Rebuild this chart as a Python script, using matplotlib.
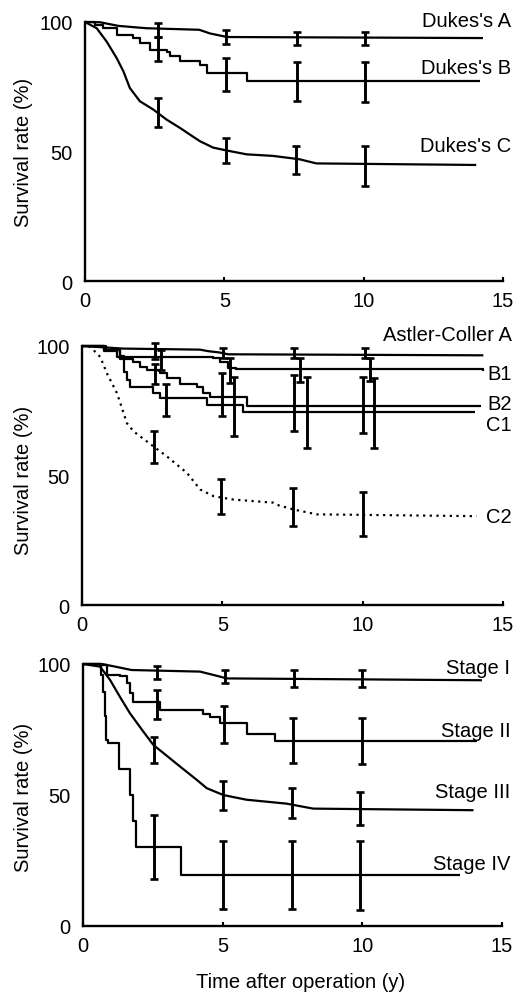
import numpy as np
import matplotlib
matplotlib.use('Agg')
import matplotlib.pyplot as plt

plt.rcParams['font.family'] = ['Liberation Sans', 'DejaVu Sans']

# ---------------- Panel 1 : Dukes stage ----------------
dukesA_t = [0, 0.54, 1.2, 2.2, 4.1, 4.48, 5.1, 14.28]
dukesA_s = [100, 99.9, 98.5, 97.6, 97.0, 95.6, 94.2, 93.8]
dukesB_t = [0, 0.36, 0.66, 1.14, 1.73, 1.97, 2.33, 2.93, 3.05, 3.41, 4.13, 4.37, 5.8, 14.16]
dukesB_s = [100, 98.9, 97.6, 95.0, 93.7, 91.8, 89.2, 88.6, 86.7, 84.8, 83.5, 80.3, 77.2, 77.2]
dukesC_t = [0, 0.42, 0.78, 1.14, 1.38, 1.61, 1.97, 2.45, 2.93, 3.41, 3.77, 4.12, 4.6, 5.08,
            5.8, 6.75, 7.7, 8.3, 14.04]
dukesC_s = [100, 97.6, 92.4, 86.0, 80.9, 74.5, 69.4, 66.2, 62.3, 59.1, 56.5, 54.0, 51.5, 50.4,
            48.9, 48.3, 47.0, 45.4, 44.8]

dukesA_err_t = [2.62, 5.05, 7.59, 10.06]
dukesA_lo = [94.2, 91.5, 91.0, 91.0]
dukesA_hi = [99.8, 96.9, 96.0, 96.0]
dukesB_err_t = [2.62, 5.05, 7.59, 10.06]
dukesB_lo = [84.8, 73.3, 69.5, 69.2]
dukesB_hi = [94.3, 86.0, 84.6, 84.5]
dukesC_err_t = [2.62, 5.05, 7.57, 10.04]
dukesC_lo = [59.4, 45.4, 41.2, 36.7]
dukesC_hi = [70.7, 55.3, 52.0, 52.0]

# ---------------- Panel 2 : Astler-Coller ----------------
acA_t = [0, 1.47, 4.2, 4.5, 4.9, 5.2, 14.3]
acA_s = [100, 99.0, 98.6, 98.0, 97.5, 96.8, 96.4]
acB1_t = [0, 0.8, 1.25, 4.67, 4.9, 5.2, 5.5, 14.3]
acB1_s = [100, 98.0, 95.8, 95.4, 94.0, 91.5, 91.0, 90.3]
acB2_t = [0, 0.85, 1.35, 1.83, 2.07, 2.3, 2.78, 3.02, 3.49, 4.08, 4.32, 4.56, 5.87, 14.2]
acB2_s = [100, 98.5, 95.1, 93.9, 92.0, 90.7, 89.4, 87.5, 85.5, 84.3, 81.7, 80.4, 77.0, 77.0]
acC1_t = [0, 0.8, 1.35, 1.5, 1.6, 1.71, 2.54, 2.78, 4.44, 5.75, 14.0]
acC1_s = [100, 98.5, 96.0, 90.0, 86.8, 84.3, 81.7, 79.8, 77.2, 74.4, 74.4]
acC2_t = [0, 0.3, 0.65, 0.89, 1.25, 1.6, 1.84, 2.55, 3.02, 3.74, 4.21, 4.69, 5.4, 6.82,
          7.0, 7.53, 8.36, 14.06]
acC2_s = [100, 99.6, 95.8, 89.4, 81.7, 70.2, 67.0, 61.2, 57.4, 51.0, 44.6, 42.0, 40.7, 39.5,
          38.5, 36.9, 35.0, 34.3]

acA_err_t = [2.6, 5.03, 7.55, 10.08]
acA_lo = [95.0, 95.2, 95.2, 95.2]
acA_hi = [101.3, 99.4, 99.4, 99.4]
acB1_err_t = [2.8, 5.27, 7.77, 10.26]
acB1_lo = [90.7, 85.8, 86.2, 86.5]
acB1_hi = [98.3, 95.5, 95.4, 95.4]
acB2_err_t = [2.6, 5.0, 7.55, 10.0]
acB2_lo = [85.2, 72.8, 67.3, 66.3]
acB2_hi = [93.2, 89.4, 88.7, 88.1]
acC1_err_t = [3.0, 5.4, 8.0, 10.4]
acC1_lo = [72.8, 65.4, 60.8, 60.6]
acC1_hi = [85.5, 88.1, 87.9, 87.5]
acC2_err_t = [2.55, 4.95, 7.5, 10.0]
acC2_lo = [54.8, 35.0, 30.5, 26.6]
acC2_hi = [67.0, 48.8, 45.0, 43.7]

# ---------------- Panel 3 : TNM stage ----------------
stI_t = [0, 0.68, 1.15, 1.74, 4.19, 4.9, 5.14, 14.28]
stI_s = [100, 100, 99.0, 97.7, 97.1, 95.2, 94.5, 93.8]
stII_t = [0, 0.61, 0.85, 1.32, 1.56, 1.68, 1.8, 2.76, 4.3, 4.55, 4.9, 5.86, 6.87, 14.1]
stII_s = [100, 99.6, 95.8, 95.4, 92.6, 88.8, 85.6, 82.5, 81.0, 79.9, 77.4, 73.3, 70.8, 70.8]
stIII_t = [0, 0.61, 0.97, 1.32, 1.68, 2.16, 2.52, 2.88, 3.47, 4.07, 4.43, 5.02, 5.85,
           7.29, 8.24, 13.98]
stIII_s = [100, 99.0, 93.9, 87.5, 81.2, 74.2, 69.1, 66.0, 60.9, 55.8, 52.6, 50.0, 48.2,
           46.7, 44.8, 44.2]
stIV_t = [0, 0.65, 0.72, 0.78, 0.84, 0.9, 1.3, 1.67, 1.8, 1.9, 3.5, 13.5]
stIV_s = [100, 95.8, 89.5, 80.0, 71.0, 70.0, 60.0, 50.0, 40.0, 30.0, 19.5, 19.5]

stI_err_t = [2.65, 5.1, 7.55, 10.0]
stI_lo = [94.3, 92.6, 91.1, 91.1]
stI_hi = [99.4, 97.7, 97.7, 97.7]
stII_err_t = [2.65, 5.05, 7.5, 9.98]
stII_lo = [79.1, 69.8, 62.2, 61.9]
stII_hi = [90.1, 83.8, 79.3, 79.3]
stIII_err_t = [2.55, 5.0, 7.47, 9.9]
stIII_lo = [62.4, 44.2, 41.2, 38.7]
stIII_hi = [72.0, 55.2, 52.7, 51.0]
stIV_err_t = [2.55, 5.0, 7.47, 9.9]
stIV_lo = [18.0, 6.6, 6.6, 6.1]
stIV_hi = [42.3, 32.4, 32.4, 32.4]

W, H = 517, 995
FS = 14.5


def drawCurve(ax, t, s, lo, hi, err_t, step=False, dotted=False):
	'''
	Draws one survival curve with its error bars.
	'''
	ls = (0, (1, 2.0)) if dotted else '-'
	ds = 'steps-post' if step else 'default'
	ax.plot(t, s, color='black', lw=1.6, ls=ls, drawstyle=ds, clip_on=False,
	        solid_capstyle='butt')
	lo = np.array(lo)
	hi = np.array(hi)
	mid = (lo + hi) / 2
	ax.errorbar(err_t, mid, yerr=(hi - lo) / 2, fmt='none', ecolor='black',
	            elinewidth=2.1, capsize=2.6, capthick=1.9, clip_on=False)


def setupAxes(ax):
	ax.set_xlim(0, 15)
	ax.set_ylim(0, 100)
	ax.set_xticks([0, 5, 10, 15])
	ax.set_yticks([0, 50, 100])
	for side in ['top', 'right']:
		ax.spines[side].set_visible(False)
	for side in ['left', 'bottom']:
		ax.spines[side].set_linewidth(1.7)
	ax.tick_params(axis='x', direction='in', length=3, width=1.5, pad=7, labelsize=FS)
	ax.tick_params(axis='y', length=0, pad=9, labelsize=FS)


def label(ax, y, text):
	ax.text(15.3, y, text, ha='right', va='center', fontsize=FS, clip_on=False)


def axesRect(left, right, top, bottom):
	return [left / W, (H - bottom) / H, (right - left) / W, (bottom - top) / H]


fig = plt.figure(figsize=(W / 100, H / 100), dpi=100)

# Panel 1
ax1 = fig.add_axes(axesRect(85, 503, 23, 282))
setupAxes(ax1)
drawCurve(ax1, dukesA_t, dukesA_s, dukesA_lo, dukesA_hi, dukesA_err_t)
drawCurve(ax1, dukesB_t, dukesB_s, dukesB_lo, dukesB_hi, dukesB_err_t, step=True)
drawCurve(ax1, dukesC_t, dukesC_s, dukesC_lo, dukesC_hi, dukesC_err_t)
label(ax1, 100.5, "Dukes's A")
label(ax1, 82.5, "Dukes's B")
label(ax1, 52.4, "Dukes's C")

# Panel 2
ax2 = fig.add_axes(axesRect(82, 503, 347, 606))
setupAxes(ax2)
drawCurve(ax2, acA_t, acA_s, acA_lo, acA_hi, acA_err_t)
drawCurve(ax2, acB1_t, acB1_s, acB1_lo, acB1_hi, acB1_err_t, step=True)
drawCurve(ax2, acB2_t, acB2_s, acB2_lo, acB2_hi, acB2_err_t, step=True)
drawCurve(ax2, acC1_t, acC1_s, acC1_lo, acC1_hi, acC1_err_t, step=True)
drawCurve(ax2, acC2_t, acC2_s, acC2_lo, acC2_hi, acC2_err_t, dotted=True)
label(ax2, 104.3, "Astler-Coller A")
label(ax2, 89.5, "B1")
label(ax2, 77.7, "B2")
label(ax2, 69.7, "C1")
label(ax2, 34.0, "C2")

# Panel 3
ax3 = fig.add_axes(axesRect(83, 502, 665, 927))
setupAxes(ax3)
drawCurve(ax3, stI_t, stI_s, stI_lo, stI_hi, stI_err_t)
drawCurve(ax3, stII_t, stII_s, stII_lo, stII_hi, stII_err_t, step=True)
drawCurve(ax3, stIII_t, stIII_s, stIII_lo, stIII_hi, stIII_err_t)
drawCurve(ax3, stIV_t, stIV_s, stIV_lo, stIV_hi, stIV_err_t, step=True)
label(ax3, 98.7, "Stage I")
label(ax3, 74.8, "Stage II")
label(ax3, 51.2, "Stage III")
label(ax3, 24.0, "Stage IV")

# axis titles
for yc in [152, 480, 797]:
	fig.text(24 / W, 1 - yc / H, 'Survival rate (%)', rotation=90, ha='center',
	         va='center', fontsize=FS)
fig.text(301 / W, 1 - 983 / H, 'Time after operation (y)', ha='center', va='center',
         fontsize=FS)

fig.savefig('out.png', dpi=100)
